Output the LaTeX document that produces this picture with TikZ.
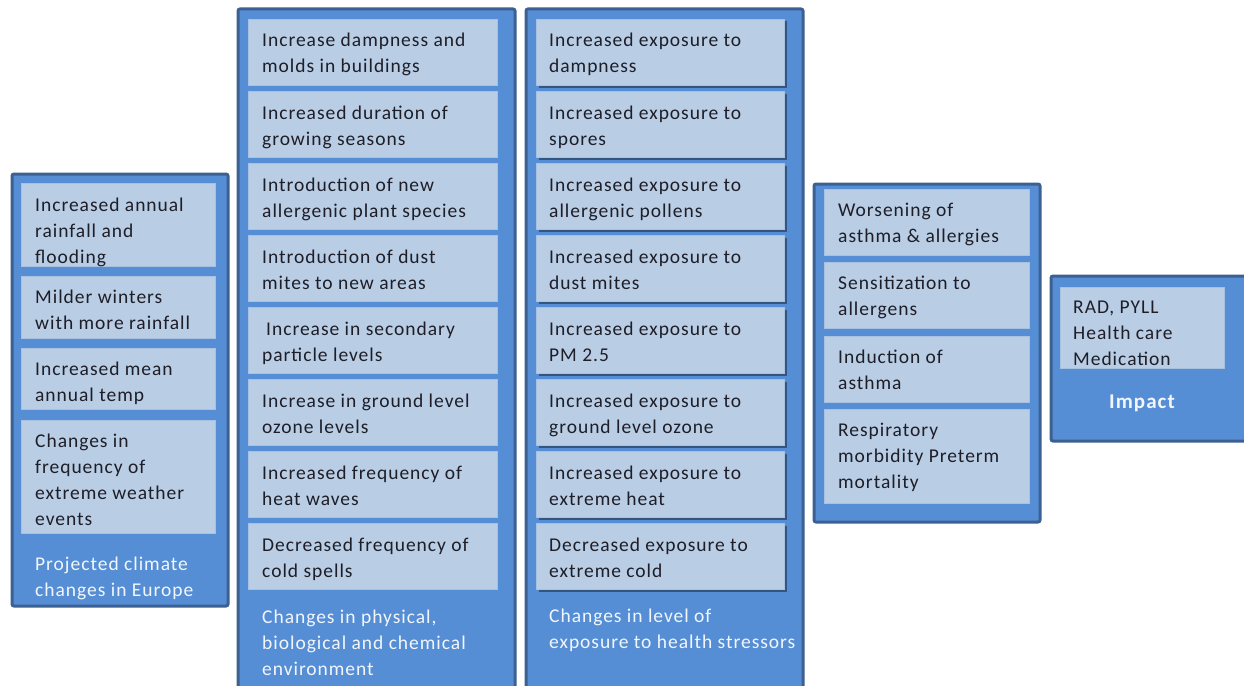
\documentclass[tikz,border=0pt]{standalone}
\usepackage{fontspec}
\setmainfont{Carlito}[LetterSpace=5.0]
\usetikzlibrary{shadows}
\definecolor{outerfill}{HTML}{558ED5}
\definecolor{outerline}{HTML}{3C6091}
\definecolor{innerfill}{HTML}{B9CDE5}
\definecolor{innerline}{HTML}{A9C1E0}
\definecolor{txt}{HTML}{1E1E28}
\definecolor{lbl}{HTML}{F2F6FB}
\tikzset{
  column/.style={fill=outerfill, draw=outerline, line width=3pt, rounded corners=2pt},
  item/.style={fill=innerfill, draw=innerline, line width=0.6pt},
  shadowitem/.style={item, drop shadow={shadow xshift=2.5pt, shadow yshift=-2.5pt, fill=black, opacity=0.4}},
  itemtext/.style={anchor=base west, inner sep=0pt, text=txt, font=\fontsize{19.5}{26}\selectfont},
  labeltext/.style={anchor=base west, inner sep=0pt, text=lbl, font=\fontsize{19.5}{26}\selectfont},
}
% \boxnode{name}{style}{x1}{y1}{x2}{y2}
\newcommand{\boxnode}[6]{%
  \node[#2, anchor=north west, inner sep=0pt, outer sep=0pt,
        minimum width={(#5-#3)*1pt}, minimum height={(#6-#4)*1pt}] (#1) at (#3,#4) {};}
\newcommand{\mylines}[1]{\parbox[t]{12cm}{\raggedright #1}}
\begin{document}
\begin{tikzpicture}[x=1pt,y=-1pt]
\useasboundingbox (0,0) rectangle (1244,685);
\clip (0,0) rectangle (1244,685);

% ---------- column 1 ----------
\boxnode{col1}{column}{12}{174}{228}{606}
\boxnode{a1}{item}{21}{183}{215}{266}
\boxnode{a2}{item}{21}{276}{215}{338}
\boxnode{a3}{item}{21}{348}{215}{409}
\boxnode{a4}{item}{21}{420}{215}{533}
\node[itemtext] (ta1) at (35,211) {\mylines{Increased annual\\rainfall and\\flooding}};
\node[itemtext] (ta2) at (35,303) {\mylines{Milder winters\\with more rainfall}};
\node[itemtext] (ta3) at (35,375) {\mylines{Increased mean\\annual temp}};
\node[itemtext] (ta4) at (35,447) {\mylines{Changes in\\frequency of\\extreme weather\\events}};
\node[labeltext] (la) at (35,570) {\mylines{Projected climate\\changes in Europe}};

% ---------- column 2 ----------
\boxnode{col2}{column}{238}{9}{515}{720}
\boxnode{b1}{item}{248}{19}{497}{85}
\boxnode{b2}{item}{248}{91}{497}{157}
\boxnode{b3}{item}{248}{163}{497}{229}
\boxnode{b4}{item}{248}{235}{497}{301}
\boxnode{b5}{item}{248}{307}{497}{373}
\boxnode{b6}{item}{248}{379}{497}{445}
\boxnode{b7}{item}{248}{451}{497}{517}
\boxnode{b8}{item}{248}{523}{497}{589}
\node[itemtext] (tb1) at (262,47) {\mylines{Increase dampness and\\molds in buildings}};
\node[itemtext] (tb2) at (262,119) {\mylines{Increased duration of\\growing seasons}};
\node[itemtext] (tb3) at (262,191) {\mylines{Introduction of new\\allergenic plant species}};
\node[itemtext] (tb4) at (262,263) {\mylines{Introduction of dust\\mites to new areas}};
\node[itemtext] (tb5) at (262,335) {\mylines{\hspace*{4pt}Increase in secondary\\particle levels}};
\node[itemtext] (tb6) at (262,407) {\mylines{Increase in ground level\\ozone levels}};
\node[itemtext] (tb7) at (262,479) {\mylines{Increased frequency of\\heat waves}};
\node[itemtext] (tb8) at (262,551) {\mylines{Decreased frequency of\\cold spells}};
\node[labeltext] (lb) at (262,623) {\mylines{Changes in physical,\\biological and chemical\\environment}};

% ---------- column 3 ----------
\boxnode{col3}{column}{526}{9}{803}{720}
\boxnode{c1}{shadowitem}{536}{19}{784}{85}
\boxnode{c2}{shadowitem}{536}{91}{784}{157}
\boxnode{c3}{shadowitem}{536}{163}{784}{229}
\boxnode{c4}{shadowitem}{536}{235}{784}{301}
\boxnode{c5}{shadowitem}{536}{307}{784}{373}
\boxnode{c6}{shadowitem}{536}{379}{784}{445}
\boxnode{c7}{shadowitem}{536}{451}{784}{517}
\boxnode{c8}{shadowitem}{536}{523}{784}{589}
\node[itemtext] (tc1) at (549,47) {\mylines{Increased exposure to\\dampness}};
\node[itemtext] (tc2) at (549,119) {\mylines{Increased exposure to\\spores}};
\node[itemtext] (tc3) at (549,191) {\mylines{Increased exposure to\\allergenic pollens}};
\node[itemtext] (tc4) at (549,263) {\mylines{Increased exposure to\\dust mites}};
\node[itemtext] (tc5) at (549,335) {\mylines{Increased exposure to\\PM 2.5}};
\node[itemtext] (tc6) at (549,407) {\mylines{Increased exposure to\\ground level ozone}};
\node[itemtext] (tc7) at (549,479) {\mylines{Increased exposure to\\extreme heat}};
\node[itemtext] (tc8) at (549,551) {\mylines{Decreased exposure to\\extreme cold}};
\node[labeltext] (lc) at (549,622) {\mylines{Changes in level of\\exposure to health stressors}};

% ---------- column 4 ----------
\boxnode{col4}{column}{814}{184}{1040}{522}
\boxnode{d1}{item}{824}{189}{1029}{255}
\boxnode{d2}{item}{824}{262}{1029}{328}
\boxnode{d3}{item}{824}{336}{1029}{402}
\boxnode{d4}{item}{824}{409}{1029}{503}
\node[itemtext] (td1) at (838,216) {\mylines{Worsening of\\asthma \& allergies}};
\node[itemtext] (td2) at (838,289) {\mylines{Sensitization to\\allergens}};
\node[itemtext] (td3) at (838,363) {\mylines{Induction of\\asthma}};
\node[itemtext] (td4) at (838,436) {\mylines{Respiratory\\morbidity Preterm\\mortality}};

% ---------- column 5 ----------
\boxnode{col5}{column}{1051}{276}{1262}{441}
\boxnode{e1}{item}{1060}{287}{1224}{368}
\node[itemtext] (te1) at (1073,313) {\mylines{RAD, PYLL\\Health care\\Medication}};
\node[anchor=base, inner sep=0pt, text=lbl, font=\fontsize{21}{26}\selectfont\bfseries] (le) at (1142,408) {Impact};
\end{tikzpicture}
\end{document}
